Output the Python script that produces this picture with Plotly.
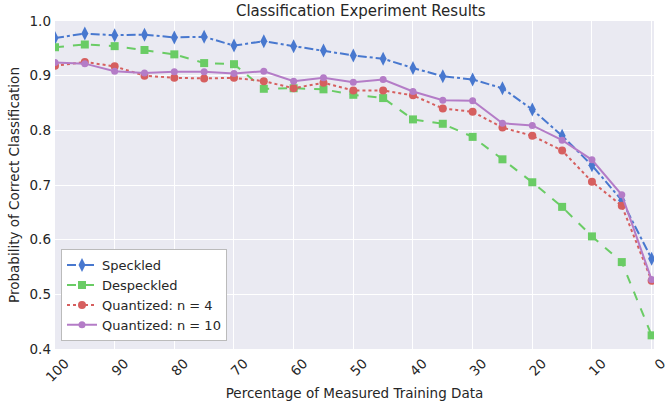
import plotly.graph_objects as go

pct = [100, 95, 90, 85, 80, 75, 70, 65, 60, 55, 50, 45, 40, 35, 30, 25, 20, 15, 10, 5, 0]

speckled = [0.969, 0.977, 0.974, 0.975, 0.970, 0.971, 0.955, 0.963, 0.954, 0.946, 0.937,
            0.931, 0.914, 0.899, 0.893, 0.877, 0.838, 0.790, 0.736, 0.672, 0.565]
despeckled = [0.952, 0.957, 0.954, 0.947, 0.939, 0.923, 0.921, 0.876, 0.877, 0.875, 0.865,
              0.859, 0.820, 0.812, 0.788, 0.747, 0.705, 0.660, 0.606, 0.559, 0.425]
quant4 = [0.918, 0.925, 0.917, 0.900, 0.896, 0.895, 0.896, 0.890, 0.877, 0.887, 0.873,
          0.873, 0.864, 0.840, 0.834, 0.805, 0.790, 0.763, 0.706, 0.662, 0.525]
quant10 = [0.924, 0.922, 0.908, 0.905, 0.907, 0.907, 0.904, 0.908, 0.890, 0.896, 0.888,
           0.893, 0.871, 0.855, 0.854, 0.813, 0.809, 0.782, 0.746, 0.682, 0.527]

xticks = [100, 90, 80, 70, 60, 50, 40, 30, 20, 10, 0]

series = [
    ("Speckled", speckled, "#4878CF", "dashdot", "diamond-tall", 10),
    ("Despeckled", despeckled, "#6ACC65", "dash", "square", 8),
    ("Quantized: n = 4", quant4, "#D65F5F", "dot", "circle", 8),
    ("Quantized: n = 10", quant10, "#B47CC7", "solid", "circle", 7),
]

fig = go.Figure()
for name, vals, color, dash, sym, size in series:
    fig.add_trace(go.Scatter(
        x=pct, y=vals, name=name, mode="lines+markers",
        line=dict(color=color, dash=dash, width=2),
        marker=dict(symbol=sym, size=size, color=color, line=dict(width=0)),
    ))

font = "DejaVu Sans, sans-serif"
fig.update_layout(
    width=668, height=402,
    margin=dict(l=55, r=0, t=21, b=53),
    paper_bgcolor="white", plot_bgcolor="#EAEAF2",
    font=dict(family=font, size=13, color="#262626"),
    title=dict(text="Classification Experiment Results", x=0.54, xanchor="center",
               y=0.973, yanchor="middle", font=dict(size=15, color="#262626")),
    xaxis=dict(range=[100, -0.4], tickvals=xticks,
               tickangle=-45, showgrid=True, gridcolor="white", gridwidth=1.3,
               zeroline=False, showline=False, ticks="",
               ticklabelshift=-10, ticklabelstandoff=3, ticklabeloverflow="allow",
               tickfont=dict(size=13.5),
               title=dict(text="Percentage of Measured Training Data", font=dict(size=13.5), standoff=4)),
    yaxis=dict(range=[0.4, 1.0], dtick=0.1, tickformat=".1f", showgrid=True,
               gridcolor="white", gridwidth=1.3, zeroline=False, showline=False, ticks="",
               tickfont=dict(size=13.5), ticklabelstandoff=3,
               title=dict(text="Probability of Correct Classification", font=dict(size=13.5), standoff=6)),
    legend=dict(x=0.01, y=0.024, xanchor="left", yanchor="bottom",
                bgcolor="white", bordercolor="#BBBBBB", borderwidth=1,
                font=dict(size=13), tracegroupgap=0),
    showlegend=True,
)

fig.write_html("out.html")
